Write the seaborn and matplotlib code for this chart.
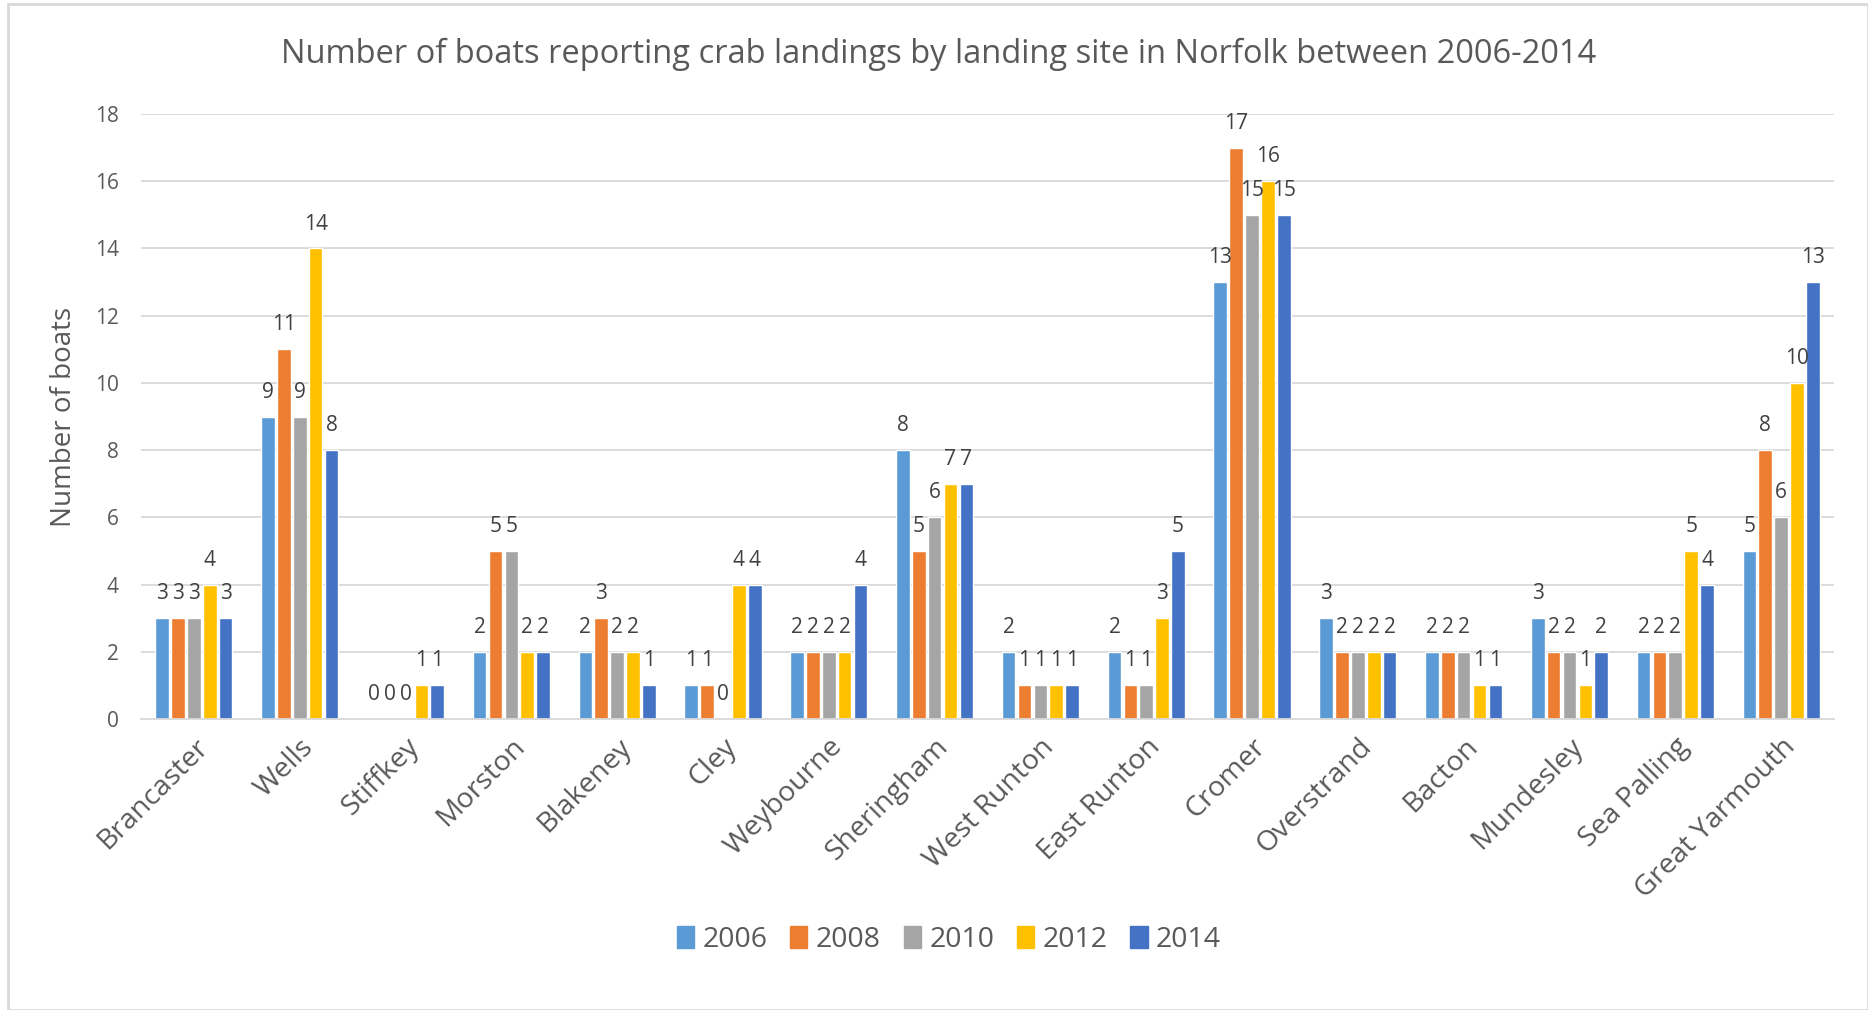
import matplotlib
matplotlib.use("Agg")
import matplotlib.pyplot as plt
import seaborn as sns
import pandas as pd
from matplotlib.patches import Rectangle

sites = ["Brancaster", "Wells", "Stiffkey", "Morston", "Blakeney", "Cley", "Weybourne",
         "Sheringham", "West Runton", "East Runton", "Cromer", "Overstrand", "Bacton",
         "Mundesley", "Sea Palling", "Great Yarmouth"]
years = ["2006", "2008", "2010", "2012", "2014"]
v2006 = [3, 9, 0, 2, 2, 1, 2, 8, 2, 2, 13, 3, 2, 3, 2, 5]
v2008 = [3, 11, 0, 5, 3, 1, 2, 5, 1, 1, 17, 2, 2, 2, 2, 8]
v2010 = [3, 9, 0, 5, 2, 0, 2, 6, 1, 1, 15, 2, 2, 2, 2, 6]
v2012 = [4, 14, 1, 2, 2, 4, 2, 7, 1, 3, 16, 2, 1, 1, 5, 10]
v2014 = [3, 8, 1, 2, 1, 4, 4, 7, 1, 5, 15, 2, 1, 2, 4, 13]
colors = ["#5B9BD5", "#ED7D31", "#A5A5A5", "#FFC000", "#4472C4"]

series = [v2006, v2008, v2010, v2012, v2014]
rows = []
for y, vals in zip(years, series):
    for s, v in zip(sites, vals):
        rows.append({"site": s, "year": y, "boats": v})
df = pd.DataFrame(rows)

sns.set_theme(style="white")
plt.rcParams["font.family"] = ["Open Sans", "DejaVu Sans"]
txt = "#595959"

fig = plt.figure(figsize=(18.68, 10.10), dpi=100)
ax = fig.add_axes([141 / 1868, 1 - 719 / 1010, (1834 - 141) / 1868, (719 - 114) / 1010])

sns.barplot(data=df, x="site", y="boats", hue="year", order=sites, hue_order=years,
            palette=colors, width=0.75, gap=0.14, ax=ax, legend=False, errorbar=None,
            saturation=1)

for c in ax.containers:
    ax.bar_label(c, labels=[f"{int(b.get_height())}" for b in c], padding=10,
                 fontsize=15, color="#404040")

ax.set_ylim(0, 18)
ax.set_xlim(-0.5, len(sites) - 0.5)
ax.set_yticks(range(0, 19, 2))
ax.yaxis.grid(True, color="#D9D9D9", linewidth=1.3)
ax.set_axisbelow(True)
for sp in ["top", "right", "left"]:
    ax.spines[sp].set_visible(False)
ax.spines["bottom"].set_color("#D9D9D9")
ax.spines["bottom"].set_linewidth(1.3)
ax.tick_params(axis="y", length=0, labelsize=15, labelcolor=txt, pad=16)
ax.tick_params(axis="x", length=0, labelsize=20.5, labelcolor=txt, pad=10)
plt.setp(ax.get_xticklabels(), rotation=45, ha="right", rotation_mode="anchor")
ax.set_xlabel("")
ax.set_ylabel("Number of boats", fontsize=20, color=txt, labelpad=12)

fig.text(0.5027, 1 - 54 / 1010, "Number of boats reporting crab landings by landing site in Norfolk between 2006-2014",
         ha="center", va="center", fontsize=23.5, color=txt)

handles = [Rectangle((0, 0), 1, 1, color=c) for c in colors]
fig.legend(handles, years, loc="center", bbox_to_anchor=(949 / 1868, 1 - 940 / 1010), ncol=5,
           frameon=False, fontsize=20.5, labelcolor=txt, handlelength=0.6, handleheight=0.8,
           handletextpad=0.3, columnspacing=0.8)

fig.patches.append(Rectangle((8 / 1868, 0), 1 - 8 / 1868, 1 - 4 / 1010, transform=fig.transFigure,
                             fill=False, edgecolor="#D9D9D9", linewidth=2))

fig.savefig("out.png", dpi=100)
